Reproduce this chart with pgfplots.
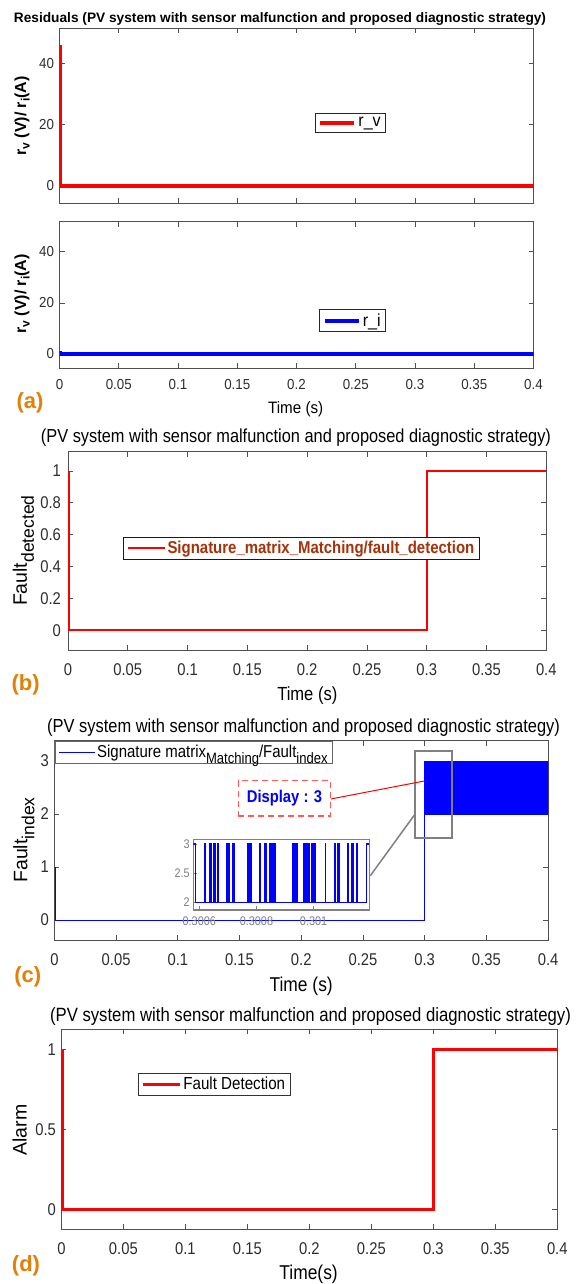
\documentclass[border=0pt]{standalone}
\usepackage{fontspec}
\setmainfont{Liberation Sans}[FakeStretch=0.87]
\newfontfamily\rotfont{Liberation Sans}
\newfontfamily\afont{Liberation Sans}[FakeStretch=0.92]
\usepackage{pgfplots}
\pgfplotsset{compat=1.18}
\definecolor{orng}{RGB}{227,128,9}
\definecolor{brn}{RGB}{165,50,10}
\definecolor{tickc}{RGB}{45,45,45}
\definecolor{axc}{RGB}{80,80,80}
\definecolor{grayz}{RGB}{128,128,128}
\definecolor{dashred}{RGB}{255,90,90}
\newcommand\fs[1]{\fontsize{#1}{#1}\selectfont}
\newcommand\sbs[3]{\raisebox{-#2}{\fs{#1}#3}}
\pgfplotsset{
  mat/.style={
    scale only axis,
    axis line style={axc,line width=0.9pt},
    every tick/.style={axc,line width=0.8pt},
    major tick length=5pt,
    tick align=inside,
    scaled ticks=false,
    /pgf/number format/fixed,
    /pgf/number format/precision=3,
    /pgf/number format/assume math mode=true,
    xmin=0,xmax=0.4,
    xtick={0,0.05,0.1,0.15,0.2,0.25,0.3,0.35,0.4},
    xticklabels={0,0.05,0.1,0.15,0.2,0.25,0.3,0.35,0.4},
    ticklabel style={text=tickc},
    yticklabel style={xshift=-2pt},
    legend cell align=left,
    axis background/.style={fill=white},
    anchor=north west,
  },
}
\begin{document}
\begin{tikzpicture}
\path[use as bounding box] (0pt,0pt) rectangle (576pt,-1284pt);
\fill[white] (0pt,0pt) rectangle (576pt,-1284pt);

% ---------- (a) top: r_v
\begin{axis}[mat, at={(59.5pt,-28.3pt)}, width=474pt, height=174.7pt,
  ymin=-5.7, ymax=51.6, ytick={0,20,40}, yticklabels={0,20,40}, xticklabels={},
  ticklabel style={font=\afont\fs{14.5}},
  legend style={at={(0.5388,0.5169)}, anchor=north west, draw=black!85, line width=1pt, font=\afont\fs{17.5}},
  legend image code/.code={\draw[#1] (0pt,0pt) -- (34pt,0pt);}]
\addplot[red, line width=4pt] coordinates {(0.0005,46) (0.0005,0) (0.4,0)};
\addlegendentry{r\_v}
\end{axis}

% ---------- (a) bottom: r_i
\begin{axis}[mat, at={(59.5pt,-221.7pt)}, width=474pt, height=146.6pt,
  ymin=-5.6, ymax=51.8, ytick={0,20,40}, yticklabels={0,20,40},
  ticklabel style={font=\afont\fs{14.5}}, xticklabel style={yshift=-8pt},
  legend style={at={(0.548,0.4025)}, anchor=north west, draw=black!85, line width=1pt, font=\afont\fs{17.5}},
  legend image code/.code={\draw[#1] (0pt,0pt) -- (34pt,0pt);}]
\addplot[blue, line width=4pt] coordinates {(0.0005,1) (0.0005,0) (0.4,0)};
\addlegendentry{r\_i}
\end{axis}

% ---------- (b)
\begin{axis}[mat, at={(68pt,-451.7pt)}, width=478.3pt, height=198.3pt,
  ymin=-0.124, ymax=1.121, ytick={0,0.2,0.4,0.6,0.8,1}, yticklabels={0,0.2,0.4,0.6,0.8,1},
  ticklabel style={font=\fs{17}}, xticklabel style={yshift=-10pt}, yticklabel style={xshift=-1.5pt},
  legend style={at={(0.115,0.571)}, anchor=north west, draw=black!90, line width=1pt, font=\fs{17.2}\bfseries},
  legend image code/.code={\draw[#1] (0pt,0pt) -- (37pt,0pt);}]
\addplot[red, line width=2pt] coordinates {(0.0005,1) (0.0005,0) (0.3,0) (0.3,1) (0.4,1)};
\addlegendentry{\textcolor{brn}{Signature\_matrix\_Matching/fault\_detection}}
\end{axis}

% ---------- (c)
\begin{axis}[mat, at={(54.4pt,-740.7pt)}, width=493.7pt, height=199.3pt,
  ymin=-0.377, ymax=3.383, ytick={0,1,2,3}, yticklabels={0,1,2,3},
  ticklabel style={font=\fs{17}}, xticklabel style={yshift=-10pt},
  legend style={at={(0,1)}, anchor=north west, draw=black!60, line width=1.5pt, font=\fs{17.2}},
  legend image code/.code={\draw[#1] (0pt,0pt) -- (36pt,0pt);}]
\addplot[blue, line width=1pt] coordinates {(0.0012,1) (0.0012,0) (0.3,0) (0.3,3)};
\addlegendentry{Signature matrix\sbs{15}{6pt}{Matching}/Fault\sbs{15}{6pt}{index}}
\addplot[blue, fill=blue, draw=blue, line width=0.8pt, forget plot] coordinates {(0.3,2) (0.3,3) (0.4,3) (0.4,2) (0.3,2)};
\end{axis}

% zoom annotations for (c)
\draw[grayz, line width=2pt] (415pt,-751pt) rectangle (452pt,-838.3pt);
\draw[grayz, line width=1.5pt] (370.3pt,-875.7pt) -- (414.4pt,-815pt);
\draw[red, line width=1pt] (330.7pt,-799pt) -- (424.3pt,-781pt);
\node[draw=dashred, dash pattern=on 6pt off 4pt, line width=1.2pt, fill=white, minimum width=92.4pt, minimum height=35.3pt, inner sep=0pt, font=\fs{17}\bfseries, text=blue] at (284.5pt,-798.4pt) {Display : 3};

% inset
\begin{axis}[scale only axis, anchor=north west, at={(193.3pt,-839.3pt)}, width=176pt, height=70.7pt,
  xmin=0.300579, xmax=0.301195, ymin=1.868, ymax=3.08,
  xtick={0.3006,0.3008,0.301}, xticklabels={0.3006,0.3008,0.301},
  ytick={2,2.5,3}, yticklabels={2,2.5,3},
  tick pos=left, tick align=inside, scaled ticks=false,
  axis line style={grayz, line width=1.2pt}, every tick/.style={grayz, line width=0.8pt}, major tick length=4pt,
  ticklabel style={font=\fs{12.5}, text=grayz}, xticklabel style={yshift=-3pt},
  axis background/.style={fill=white}]
\addplot[blue, line width=1.2pt, const plot] coordinates {
(0.300579,3) (0.300586,2) (0.300617,3) (0.300620,2) (0.300637,3) (0.300640,2) (0.300642,3) (0.300644,2)
(0.300649,3) (0.300652,2) (0.300656,3) (0.300658,2) (0.300663,3) (0.300666,2)
(0.300694,3) (0.300698,2) (0.300703,3) (0.300707,2) (0.300715,3) (0.300718,2) (0.300721,3) (0.300724,2)
(0.300768,3) (0.300771,2) (0.300775,3) (0.300778,2) (0.300781,3) (0.300784,2)
(0.300812,3) (0.300815,2) (0.300827,3) (0.300830,2) (0.300832,3) (0.300834,2)
(0.300845,3) (0.300848,2) (0.300852,3) (0.300855,2) (0.300859,3) (0.300861,2) (0.300865,3) (0.300868,2)
(0.300925,3) (0.300929,2) (0.300932,3) (0.300936,2) (0.300938,3) (0.300942,2)
(0.300965,3) (0.300967,2) (0.300971,3) (0.300974,2) (0.300977,3) (0.300980,2) (0.300984,3) (0.300987,2)
(0.300993,3) (0.300995,2) (0.301001,3) (0.301005,2) (0.301041,3) (0.301043,2)
(0.301075,3) (0.301078,2) (0.301083,3) (0.301086,2) (0.301090,3) (0.301092,2)
(0.301119,3) (0.301121,2) (0.301133,3) (0.301135,2) (0.301138,3) (0.301140,2) (0.301149,3) (0.301152,2)
(0.301185,3) (0.301195,3)};
\end{axis}

% ---------- (d)
\begin{axis}[mat, at={(61.4pt,-1029.3pt)}, width=495.9pt, height=200pt,
  ymin=-0.125, ymax=1.125, ytick={0,0.5,1}, yticklabels={0,0.5,1},
  ticklabel style={font=\fs{17}}, xticklabel style={yshift=-10pt},
  legend style={at={(0.154,0.783)}, anchor=north west, draw=black!80, line width=1.2pt, font=\fs{17.4}},
  legend image code/.code={\draw[#1] (0pt,0pt) -- (37pt,0pt);}]
\addplot[red, line width=3pt] coordinates {(0.0012,1) (0.0012,0) (0.3,0) (0.3,1) (0.4,1)};
\addlegendentry{Fault Detection}
\end{axis}

% ---------- titles
\node[anchor=base, inner sep=0pt, font=\rotfont\bfseries\fs{13.7}] at (280pt,-23pt) {Residuals (PV system with sensor malfunction and proposed diagnostic strategy)};
\node[anchor=base, inner sep=0pt, font=\fs{18.8}] at (296pt,-442.7pt) {(PV system with sensor malfunction and proposed diagnostic strategy)};
\node[anchor=base, inner sep=0pt, font=\fs{18.9}] at (303.6pt,-732.3pt) {(PV system with sensor malfunction and proposed diagnostic strategy)};
\node[anchor=base, inner sep=0pt, font=\fs{19.2}] at (310.5pt,-1021.3pt) {(PV system with sensor malfunction and proposed diagnostic strategy)};

% ---------- x labels
\node[anchor=base, inner sep=0pt, font=\afont\fs{16.5}] at (295.7pt,-413.3pt) {Time (s)};
\node[anchor=base, inner sep=0pt, font=\fs{19}] at (307.3pt,-700pt) {Time (s)};
\node[anchor=base, inner sep=0pt, font=\fs{20}] at (301.2pt,-991.7pt) {Time (s)};
\node[anchor=base, inner sep=0pt, font=\fs{20}] at (308.6pt,-1279.5pt) {Time(s)};

% ---------- y labels
\node[rotate=90, inner sep=0pt, font=\rotfont\bfseries\fs{16}] at (22pt,-116pt) {r\sbs{12}{3.5pt}{v} (V)/ r\sbs{12}{3.5pt}{i}(A)};
\node[rotate=90, inner sep=0pt, font=\rotfont\bfseries\fs{16}] at (22pt,-294pt) {r\sbs{12}{3.5pt}{v} (V)/ r\sbs{12}{3.5pt}{i}(A)};
\node[rotate=90, inner sep=0pt, font=\rotfont\fs{19.5}] at (23.3pt,-550.7pt) {Fault\sbs{17.5}{7pt}{detected}};
\node[rotate=90, inner sep=0pt, font=\rotfont\fs{19.5}] at (23.9pt,-840pt) {Fault\sbs{17.5}{7pt}{index}};
\node[rotate=90, inner sep=0pt, font=\rotfont\fs{19.5}] at (19.7pt,-1130pt) {Alarm};

% ---------- panel letters
\node[anchor=base, inner sep=0pt, font=\rotfont\bfseries\fs{22}, text=orng] at (30pt,-408.3pt) {(a)};
\node[anchor=base, inner sep=0pt, font=\rotfont\bfseries\fs{22}, text=orng] at (25.7pt,-690pt) {(b)};
\node[anchor=base, inner sep=0pt, font=\rotfont\bfseries\fs{22}, text=orng] at (27.8pt,-982.3pt) {(c)};
\node[anchor=base, inner sep=0pt, font=\rotfont\bfseries\fs{22}, text=orng] at (26pt,-1271.7pt) {(d)};
\end{tikzpicture}
\end{document}
